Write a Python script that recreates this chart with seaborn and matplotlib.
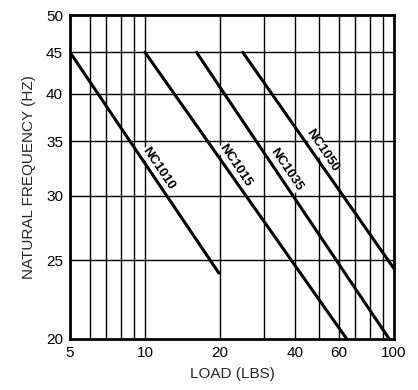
import matplotlib
matplotlib.use("Agg")
import matplotlib.pyplot as plt
import seaborn as sns
import pandas as pd
from matplotlib.ticker import FixedLocator, NullLocator, FixedFormatter

sns.set_style("white")
plt.rcParams['font.family'] = ['Liberation Sans', 'DejaVu Sans']

# -------------------------------
# Data
# -------------------------------
models = ["NC1010", "NC1015", "NC1035", "NC1050"]
load_start = [5.0, 10.0, 16.1, 24.7]
load_end = [19.8, 64.6, 95.7, 100.0]
freq_start = [45.0, 45.0, 45.0, 45.0]
freq_end = [24.1, 20.0, 20.0, 24.4]

# label anchor points (data coords)
label_x = [11.3, 23.0, 36.8, 51.4]
label_y = [32.4, 32.7, 32.3, 34.1]

x_grid = [6, 7, 8, 9, 10, 20, 30, 40, 50, 60, 70, 80, 90]
y_grid = [25, 30, 35, 40, 45]
x_ticks = [5, 10, 20, 40, 60, 100]
y_ticks = [20, 25, 30, 35, 40, 45, 50]

rows = []
for m, x0, x1, y0, y1 in zip(models, load_start, load_end, freq_start, freq_end):
    rows.append({"model": m, "load": x0, "freq": y0})
    rows.append({"model": m, "load": x1, "freq": y1})
df = pd.DataFrame(rows)

# -------------------------------
# Plot
# -------------------------------
fig = plt.figure(figsize=(4.18, 3.9), dpi=100)
ax = fig.add_axes([0.1675, 0.1308, 0.7751, 0.8307])
ax.set_xscale("log")
ax.set_yscale("log")
ax.set_xlim(5, 100)
ax.set_ylim(20, 50)

for g in x_grid:
    ax.axvline(g, color="black", lw=1.0, zorder=1)
for g in y_grid:
    ax.axhline(g, color="black", lw=1.0, zorder=1)

sns.lineplot(data=df, x="load", y="freq", units="model", estimator=None,
             color="black", lw=2.2, ax=ax, zorder=3, legend=False)

for m, lx, ly in zip(models, label_x, label_y):
    ax.text(lx, ly, m, rotation=-56, ha="center", va="center",
            fontsize=9.5, fontweight="bold", color="black", zorder=4,
            bbox=dict(facecolor="white", edgecolor="none", pad=0.2))

ax.xaxis.set_major_locator(FixedLocator(x_ticks))
ax.xaxis.set_major_formatter(FixedFormatter([str(t) for t in x_ticks]))
ax.xaxis.set_minor_locator(NullLocator())
ax.yaxis.set_major_locator(FixedLocator(y_ticks))
ax.yaxis.set_major_formatter(FixedFormatter([str(t) for t in y_ticks]))
ax.yaxis.set_minor_locator(NullLocator())
ax.tick_params(length=0, labelsize=11, colors="black", pad=5)

for s in ax.spines.values():
    s.set_linewidth(2.0)
    s.set_color("black")

ax.set_xlabel("LOAD (LBS)", fontsize=11, labelpad=5)
ax.set_ylabel("NATURAL FREQUENCY (HZ)", fontsize=11, labelpad=7)

fig.savefig("out.png", dpi=100)
